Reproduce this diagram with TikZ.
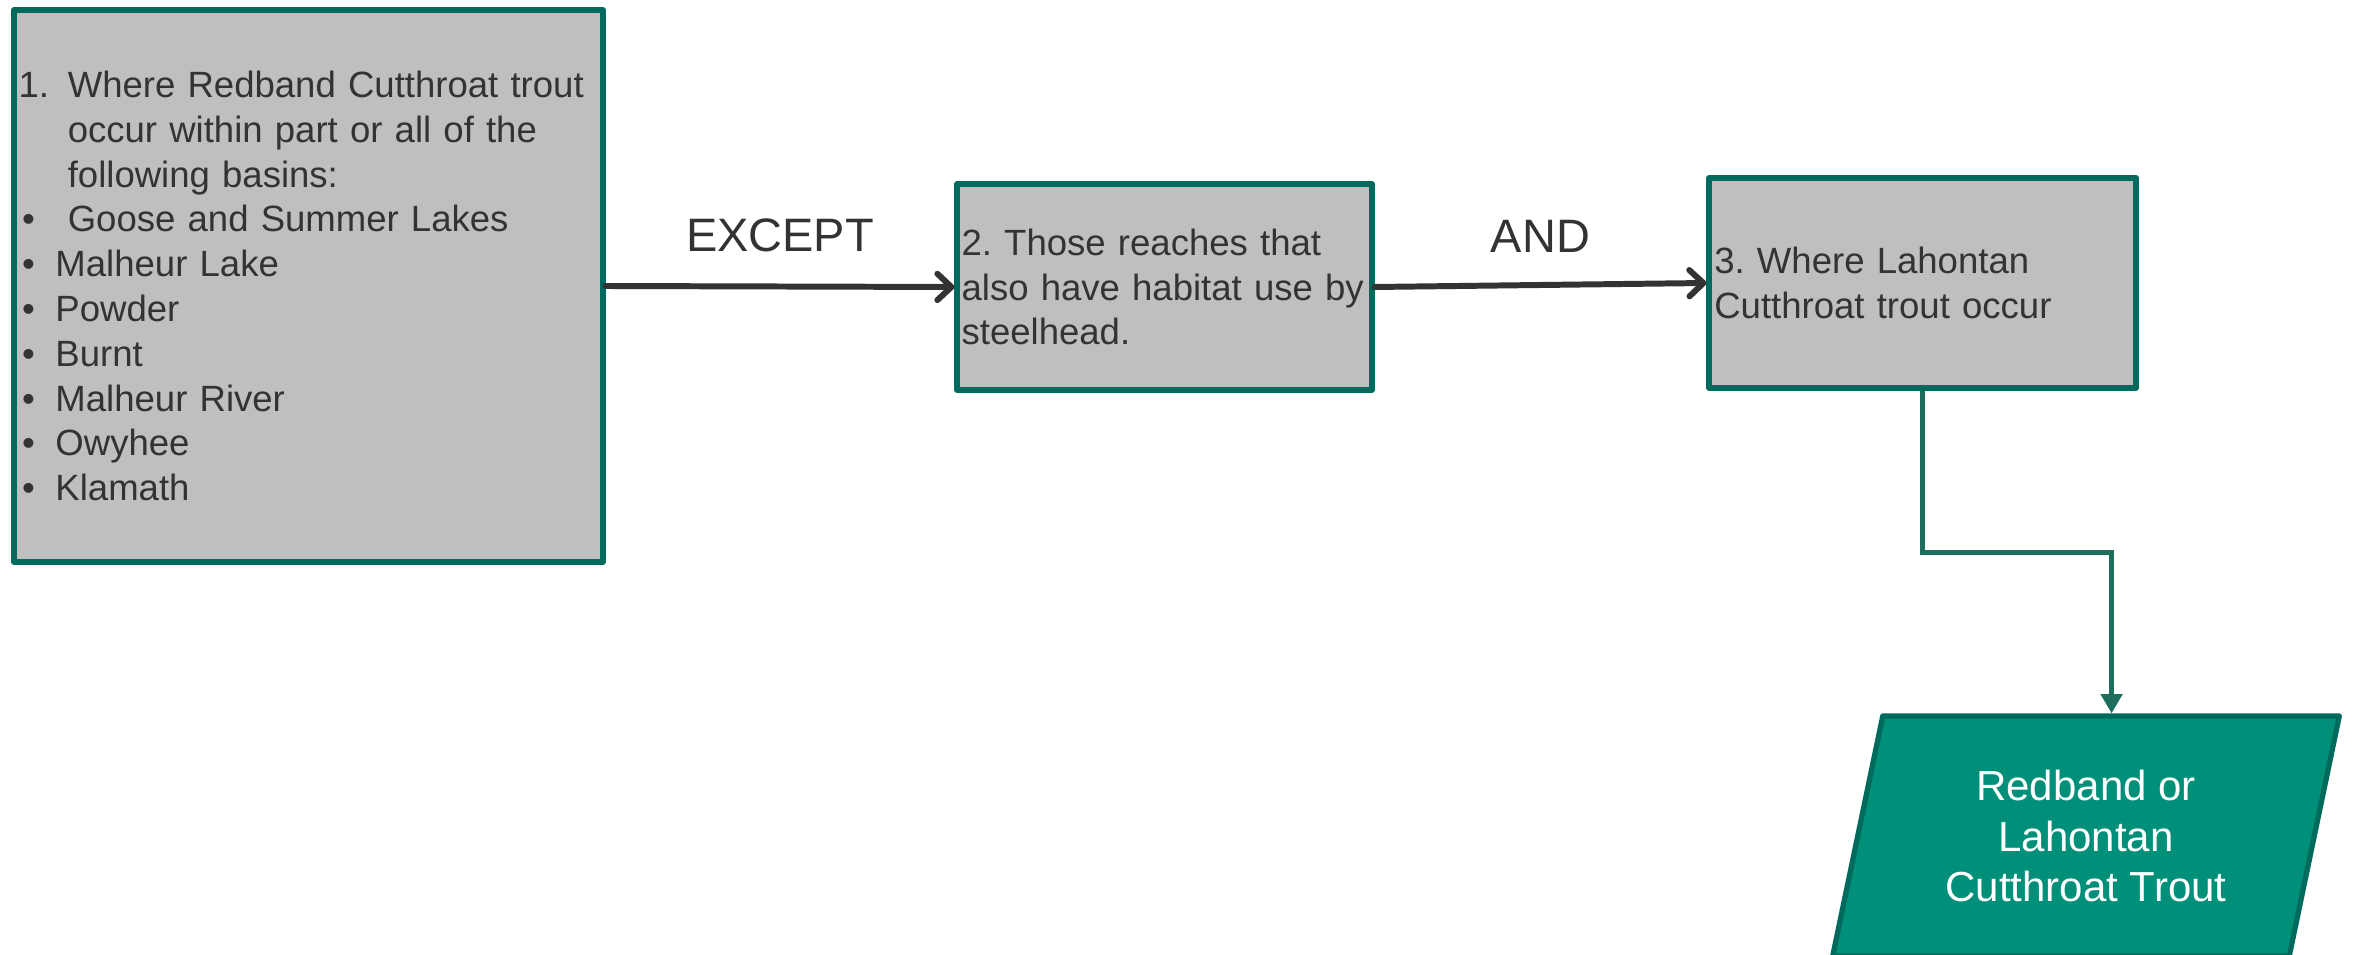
\documentclass[tikz,border=0pt]{standalone}
\usepackage{fontspec}
\setmainfont{Liberation Sans}
\usetikzlibrary{arrows.meta,shapes.geometric}
\definecolor{boxgray}{RGB}{191,191,191}
\definecolor{boxline}{RGB}{0,106,92}
\definecolor{linkline}{RGB}{30,110,92}
\definecolor{outfill}{RGB}{0,144,122}
\definecolor{textgray}{RGB}{51,51,51}
\newcommand{\numlead}[1]{\makebox[28pt][l]{#1}}
\newcommand{\dotlead}[1][21pt]{\makebox[#1][l]{\hspace{2pt}\textbullet}}
\frenchspacing
\begin{document}
\begin{tikzpicture}[x=0.02cm,y=-0.02cm,line join=round,line cap=round]
  \tikzset{stepbox/.style={rectangle,draw=boxline,fill=boxgray,line width=3pt,inner xsep=2.5pt,
      align=left,text=textgray,font=\fontsize{20.8}{25.5}\selectfont},
    flowarrow/.style={draw=textgray,line width=3.4pt,-{Straight Barb[length=8pt,width=15pt,round]}},
    linkarrow/.style={draw=linkline,line width=2.6pt,line cap=butt,line join=miter,-{Triangle[length=11pt,width=12pt]}},
    linklabel/.style={text=textgray,font=\fontsize{26.7}{32}\selectfont,inner sep=0pt},
    outbox/.style={trapezium,trapezium left angle=76,trapezium right angle=104,trapezium stretches=true,
      draw=boxline,fill=outfill,line width=3pt,align=center,text=white,font=\fontsize{23.9}{29}\selectfont}}
  \useasboundingbox (0,0) rectangle (2354,955);
  \node[stepbox,minimum width=11.78cm,minimum height=11.04cm,text width=330pt] (basins) at (308.5,286)
    {\numlead{1.}Where Redband Cutthroat trout\\
     \numlead{}occur within part or all of the\\
     \numlead{}following basins:\\
     \dotlead[28pt]Goose and Summer Lakes\\
     \dotlead Malheur Lake\\
     \dotlead Powder\\
     \dotlead Burnt\\
     \dotlead Malheur River\\
     \dotlead Owyhee\\
     \dotlead Klamath};
  \node[stepbox,minimum width=8.3cm,minimum height=4.12cm,text width=231pt] (steelhead) at (1164.5,287)
    {2. Those reaches that\\\mbox{also have habitat use by}\\steelhead.};
  \node[stepbox,minimum width=8.54cm,minimum height=4.2cm,text width=237pt] (lahontan) at (1922.5,283)
    {3. Where Lahontan\\Cutthroat trout occur};
  \node[outbox,minimum width=10.16cm,minimum height=4.8cm] (trout) at (2086,836)
    {Redband or\\Lahontan\\Cutthroat Trout};
  \draw[flowarrow] (basins.east) -- node[midway,above=18pt,linklabel] {EXCEPT} (steelhead.west);
  \draw[flowarrow] (steelhead.east) -- node[midway,above=17pt,linklabel] {AND} (lahontan.west);
  \draw[linkarrow] (lahontan.south) -- ++(0,162) -| (trout.top side);
\end{tikzpicture}
\end{document}
